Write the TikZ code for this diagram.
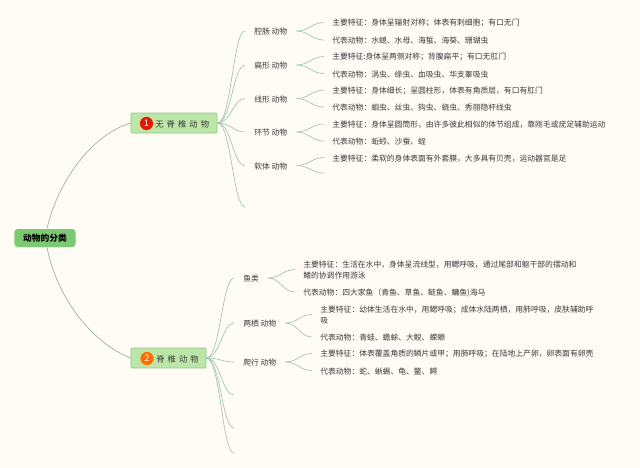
\documentclass[tikz,border=0pt]{standalone}
\usepackage{fontspec}
\setmainfont{Noto Sans CJK SC}
\definecolor{bgc}{HTML}{FFFBF5}
\definecolor{linkc}{HTML}{9CC4B2}
\definecolor{rootc}{HTML}{7CC873}
\definecolor{boxc}{HTML}{BCE5A8}
\definecolor{boxl}{HTML}{92C98A}
\definecolor{txtc}{HTML}{3C3C3C}
\tikzset{
	link/.style={draw=linkc,line width=0.45pt},
	rootbox/.style={fill=rootc,rounded corners=2.2pt,minimum width=1.525cm,minimum height=.45cm,inner sep=0pt,font=\fontsize{6.2}{8}\selectfont\bfseries,text=black},
	branchbox/.style={fill=boxc,draw=boxl,line width=0.5pt,rounded corners=0.8pt,minimum height=.5cm,inner sep=0pt},
	branchtxt/.style={anchor=west,inner sep=0pt,font=\fontsize{5.9}{7}\selectfont,text=txtc},
	numdot/.style={circle,minimum size=.33cm,inner sep=0pt,text=white,font=\fontsize{6.5}{8}\selectfont},
	subnode/.style={anchor=west,inner xsep=.225cm,inner ysep=0pt,font=\fontsize{5.55}{7}\selectfont,text=txtc},
	leafnode/.style={anchor=west,inner xsep=.2cm,inner ysep=0pt,align=left,font=\fontsize{5.55}{8.1}\selectfont,text=txtc},
}
\newcommand{\gp}{\hspace{2.2pt}}
\begin{document}
\begin{tikzpicture}[x=0.025cm,y=-0.025cm]
	\useasboundingbox[fill=bgc] (0,0) rectangle (640,468);
	% main boxes
	\node[rootbox] (root) at (45,238) {动物的分类};
	\node[branchbox,minimum width=2.15cm] (inv) at (174,123) {};
	\node[numdot,fill=red!80!orange!90!black] (invnum) at (146.5,123.5) {1};
	\node[branchtxt] (invtxt) at (155,124) {无\gp 脊\gp 椎\gp 动\gp 物};
	\node[branchbox,minimum width=1.875cm] (ver) at (168.5,358) {};
	\node[numdot,fill=orange!85!red] (vernum) at (147,358.5) {2};
	\node[branchtxt] (vertxt) at (156,359) {脊\gp 椎\gp 动\gp 物};
	\draw[link,draw=linkc!70!gray] (root.north)++(2,0) .. controls +(10,-45) and +(-40,12) .. (inv.west);
	\draw[link,draw=linkc!70!gray] (root.south)++(2,0) .. controls +(10,50) and +(-40,-16) .. (ver.west);
	% groups of the upper branch
	\foreach \n/\y/\t in {a/31.8/腔肠 动物,b/65.8/扁形 动物,c/99.3/线形 动物,d/132.8/环节 动物,e/166.3/软体 动物}{
		\node[subnode] (s\n) at (245,\y) {\t};
		\draw[link] (inv.east) .. controls +(14,0) and +(-12,0) .. ([yshift=.55pt]s\n.west);
	}
	\coordinate (sf) at (245,207);
	\draw[link] (inv.east) .. controls +(14,0) and +(-12,0) .. (sf);
	% groups of the lower branch
	\foreach \n/\y/\t in {g/278.8/鱼类,h/323.8/两栖 动物,i/362.8/爬行 动物}{
		\node[subnode] (s\n) at (234,\y) {\t};
		\draw[link] (ver.east) .. controls +(14,0) and +(-12,0) .. ([yshift=.55pt]s\n.west);
	}
	\foreach \n/\y in {j/395,k/428,l/453}{
		\coordinate (s\n) at (234,\y);
		\draw[link] (ver.east) .. controls +(14,0) and +(-12,0) .. (s\n);
	}
	% leaves
	\foreach \s/\n/\x/\y/\t in {
		a/1/324/23.3/{主要特征：身体呈辐射对称；体表有刺细胞；有口无门},
		a/2/324/40.8/{代表动物：水螅、水母、海蜇、海葵、珊瑚虫},
		b/1/324/57.3/{主要特征:身体呈两侧对称；背腹扁平；有口无肛门},
		b/2/324/74.3/{代表动物：涡虫、绦虫、血吸虫、华支睾吸虫},
		c/1/324/90.8/{主要特征：身体细长；呈圆柱形，体表有角质层，有口有肛门},
		c/2/324/107.8/{代表动物：蛔虫、丝虫、钩虫、蛲虫、秀丽隐杆线虫},
		d/1/324/124.8/{主要特征：身体呈圆筒形，由许多彼此相似的体节组成，靠刚毛或疣足辅助运动},
		d/2/324/141.8/{代表动物：蚯蚓、沙蚕、蛭},
		e/1/324/158.3/{主要特征：柔软的身体表面有外套膜，大多具有贝壳，运动器官是足},
		g/1/295/270.3/{主要特征：生活在水中，身体呈流线型，用鳃呼吸，通过尾部和躯干部的摆动和\\鳍的协调作用游泳},
		g/2/295/292.8/{代表动物：四大家鱼（青鱼、草鱼、鲢鱼、鳙鱼)海马},
		h/1/312/315.3/{主要特征：幼体生活在水中，用鳃呼吸；成体水陆两栖，用肺呼吸，皮肤辅助呼\\吸},
		h/2/312/337.8/{代表动物：青蛙、蟾蜍、大鲵、蝾螈},
		i/1/312/354.3/{主要特征：体表覆盖角质的鳞片或甲；用肺呼吸；在陆地上产卵，卵表面有卵壳},
		i/2/312/371.3/{代表动物：蛇、蜥蜴、龟、鳖、鳄}}{
		\node[leafnode] (l\s\n) at (\x,\y) {\t};
		\draw[link] ([yshift=.55pt]s\s.east) .. controls +(12,0) and +(-12,0) .. ([yshift=.55pt]l\s\n.west);
	}
	\coordinate (le2) at (324,173);
	\draw[link] ([yshift=.55pt]se.east) .. controls +(12,0) and +(-12,0) .. (le2);
\end{tikzpicture}
\end{document}
